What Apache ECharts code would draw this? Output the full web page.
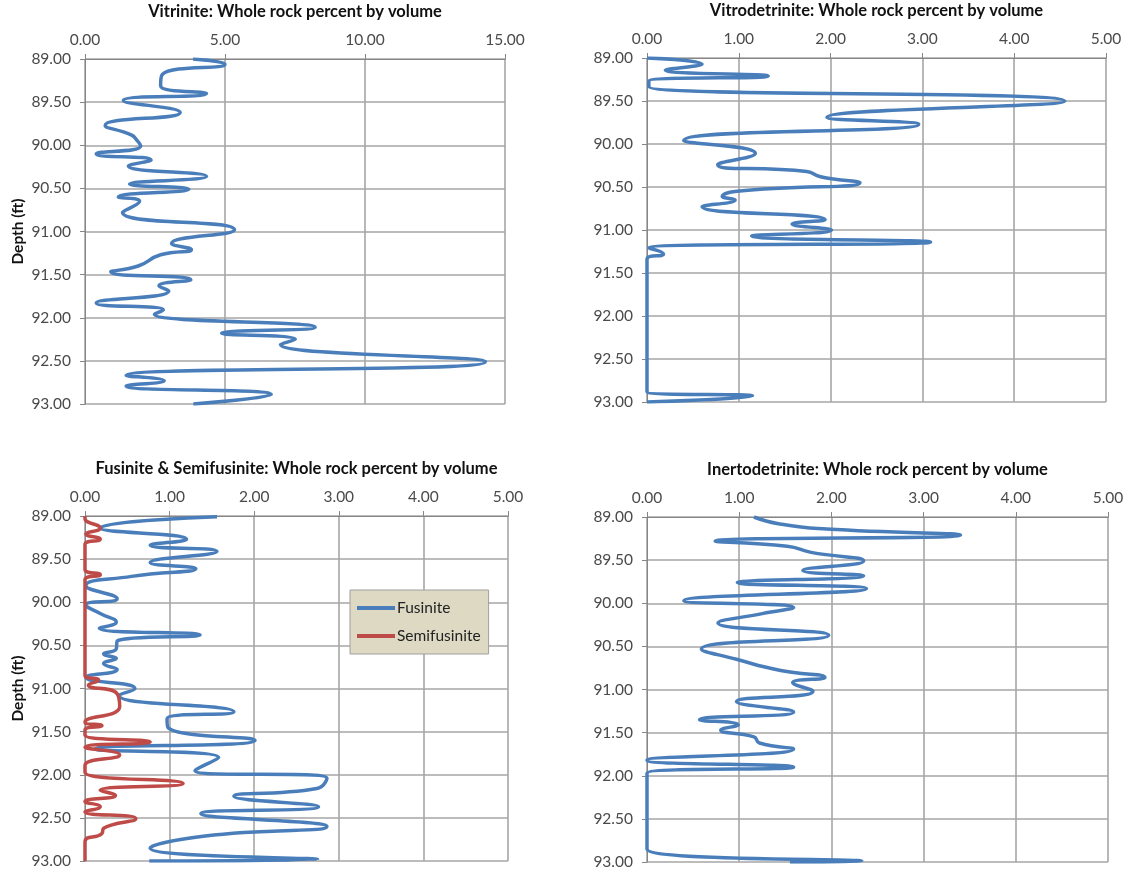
<!DOCTYPE html>
<html>
<head>
<meta charset="utf-8">
<script src="https://cdn.jsdelivr.net/npm/echarts@6/dist/echarts.min.js"></script>
<style>
  html, body { margin: 0; padding: 0; background: #ffffff; }
  #chart { width: 1133px; height: 871px; }
</style>
</head>
<body>
<div id="chart"></div>
<script>
// Depth axis (ft), shared by all four panels
const depthMin = 89.0;
const depthMax = 93.0;
const depthStep = 0.5;

// Vitrinite, whole rock percent by volume
const vitriniteDepth = [89.00, 89.06, 89.18, 89.31, 89.40, 89.48, 89.62, 89.77, 89.88, 89.94, 90.01, 90.10, 90.17, 90.24, 90.36, 90.45, 90.51, 90.60, 90.65, 90.78, 90.98, 91.14, 91.21, 91.27, 91.40, 91.47, 91.56, 91.63, 91.69, 91.83, 91.91, 91.96, 92.11, 92.18, 92.25, 92.31, 92.51, 92.67, 92.73, 92.79, 92.89, 93.00];
const vitriniteValue = [3.86, 5.00, 2.76, 2.70, 4.34, 1.37, 3.40, 0.72, 1.65, 1.85, 1.99, 0.40, 2.36, 1.55, 4.34, 1.59, 3.71, 1.19, 1.95, 1.34, 5.34, 3.09, 3.80, 2.70, 1.90, 0.92, 3.78, 2.64, 2.99, 0.40, 2.80, 2.48, 8.22, 4.88, 7.51, 6.98, 14.30, 1.47, 2.83, 1.47, 6.65, 3.87];

// Vitrodetrinite, whole rock percent by volume
const vitrodetriniteDepth = [89.00, 89.07, 89.14, 89.21, 89.27, 89.33, 89.50, 89.69, 89.77, 89.96, 90.11, 90.24, 90.32, 90.38, 90.45, 90.55, 90.61, 90.65, 90.73, 90.88, 90.93, 91.00, 91.07, 91.14, 91.21, 91.28, 91.34, 91.60, 92.00, 92.40, 92.88, 92.93, 93.00];
const vitrodetriniteValue = [0.00, 0.60, 0.20, 1.32, 0.02, 0.02, 4.55, 1.96, 2.96, 0.40, 1.18, 0.77, 1.74, 1.89, 2.32, 0.98, 0.82, 0.96, 0.60, 1.94, 1.58, 2.01, 1.14, 3.09, 0.02, 0.18, 0.00, 0.00, 0.00, 0.00, 0.00, 1.15, 0.00];

// Fusinite, whole rock percent by volume
const fusiniteDepth = [89.01, 89.14, 89.27, 89.34, 89.41, 89.54, 89.61, 89.70, 89.81, 89.96, 90.03, 90.13, 90.23, 90.30, 90.38, 90.45, 90.54, 90.60, 90.65, 90.71, 90.78, 90.87, 91.00, 91.08, 91.27, 91.35, 91.45, 91.60, 91.70, 91.80, 91.95, 92.04, 92.16, 92.25, 92.37, 92.45, 92.60, 92.71, 92.85, 92.98, 93.00];
const fusiniteValue = [1.56, 0.18, 1.20, 0.77, 1.56, 0.77, 1.31, 0.55, 0.01, 0.38, 0.01, 0.18, 0.37, 0.17, 1.36, 0.38, 0.37, 0.22, 0.37, 0.22, 0.38, 0.01, 0.59, 0.40, 1.76, 0.97, 0.98, 2.01, 0.12, 1.58, 1.30, 2.86, 2.74, 1.76, 2.76, 1.37, 2.86, 1.42, 0.77, 2.75, 0.76];

// Semifusinite, whole rock percent by volume
const semifusiniteDepth = [89.00, 89.03, 89.14, 89.21, 89.27, 89.33, 89.50, 89.62, 89.68, 89.74, 90.20, 90.60, 90.85, 90.90, 90.96, 91.06, 91.21, 91.39, 91.43, 91.48, 91.54, 91.62, 91.68, 91.77, 91.89, 91.97, 92.10, 92.18, 92.24, 92.31, 92.37, 92.43, 92.51, 92.62, 92.68, 92.78, 93.00];
const semifusiniteValue = [0.00, 0.00, 0.18, 0.01, 0.18, 0.00, 0.00, 0.00, 0.18, 0.00, 0.00, 0.00, 0.00, 0.16, 0.04, 0.38, 0.41, 0.00, 0.20, 0.00, 0.00, 0.77, 0.00, 0.41, 0.00, 0.00, 1.16, 0.18, 0.36, 0.00, 0.18, 0.00, 0.60, 0.22, 0.20, 0.00, 0.00];

// Inertodetrinite, whole rock percent by volume
const inertodetriniteDepth = [89.00, 89.08, 89.14, 89.21, 89.28, 89.34, 89.41, 89.51, 89.62, 89.68, 89.76, 89.83, 89.97, 90.05, 90.12, 90.23, 90.37, 90.53, 90.65, 90.78, 90.86, 90.92, 91.02, 91.14, 91.26, 91.35, 91.41, 91.47, 91.55, 91.62, 91.69, 91.82, 91.90, 91.97, 92.40, 92.85, 92.99, 93.00];
const inertodetriniteValue = [1.16, 1.44, 1.95, 3.40, 0.74, 1.52, 1.78, 2.35, 1.69, 2.35, 0.98, 2.38, 0.40, 1.59, 1.25, 0.77, 1.97, 0.59, 0.97, 1.45, 1.93, 1.58, 1.80, 0.97, 1.59, 0.57, 0.99, 0.80, 1.16, 1.22, 1.59, 0.00, 1.59, 0.00, 0.00, 0.00, 2.33, 1.55];

// Panel titles and percent-axis ranges
const panelTitles = [
  'Vitrinite: Whole rock percent by volume',
  'Vitrodetrinite: Whole rock percent by volume',
  'Fusinite & Semifusinite: Whole rock percent by volume',
  'Inertodetrinite: Whole rock percent by volume'
];
const percentMax = [15, 5, 5, 5];
const percentStep = [5, 1, 1, 1];
const depthAxisName = 'Depth (ft)';

const FONT = 'Lato, "Open Sans", "Liberation Sans", sans-serif';
const BLUE = '#4a7ebb';
const RED = '#be4b48';
const AXIS_GRAY = '#868686';
const GRID_GRAY = '#a6a6a6';
const LABEL_GRAY = '#4a4a4a';

function pairs(values, depths) {
  return values.map((v, i) => [v, depths[i]]);
}

const grids = [
  { left: 85, top: 59, width: 420, height: 345 },
  { left: 647, top: 58, width: 459, height: 344 },
  { left: 85, top: 516, width: 423, height: 345 },
  { left: 647, top: 517, width: 461, height: 345 }
];

const fmt2 = v => v.toFixed(2);

const xAxes = grids.map((g, i) => ({
  type: 'value',
  gridIndex: i,
  position: 'top',
  min: 0,
  max: percentMax[i],
  interval: percentStep[i],
  name: panelTitles[i],
  nameLocation: 'middle',
  nameGap: 39,
  nameTextStyle: { fontFamily: FONT, fontSize: 16.5, fontWeight: 'bold', color: '#111' },
  axisLine: { show: true, lineStyle: { color: AXIS_GRAY, width: 1 } },
  axisTick: { show: true, length: 5, lineStyle: { color: AXIS_GRAY } },
  axisLabel: { formatter: fmt2, fontFamily: FONT, fontSize: 15.5, color: LABEL_GRAY, margin: 11 },
  splitLine: { show: true, lineStyle: { color: GRID_GRAY, width: 1.6 } }
}));

const yAxes = grids.map((g, i) => ({
  type: 'value',
  gridIndex: i,
  inverse: true,
  min: depthMin,
  max: depthMax,
  interval: depthStep,
  name: (i % 2 === 0) ? depthAxisName : '',
  nameLocation: 'middle',
  nameRotate: 90,
  nameGap: 59,
  nameTextStyle: { fontFamily: FONT, fontSize: 15.5, fontWeight: 'bold', color: '#111' },
  axisLine: { show: true, lineStyle: { color: AXIS_GRAY, width: 1 } },
  axisTick: { show: true, length: 5, lineStyle: { color: AXIS_GRAY } },
  axisLabel: { formatter: fmt2, fontFamily: FONT, fontSize: 15.5, color: LABEL_GRAY, margin: 14 },
  splitLine: { show: true, lineStyle: { color: GRID_GRAY, width: 1.6 } }
}));

function curve(name, values, depths, idx, color) {
  return {
    name: name,
    type: 'line',
    xAxisIndex: idx,
    yAxisIndex: idx,
    data: pairs(values, depths),
    smooth: 0.55,
    showSymbol: false,
    symbol: 'none',
    clip: true,
    lineStyle: { color: color, width: 3.5 },
    itemStyle: { color: color },
    emphasis: { disabled: true }
  };
}

const option = {
  animation: false,
  backgroundColor: '#ffffff',
  grid: grids,
  xAxis: xAxes,
  yAxis: yAxes,
  legend: {
    data: ['Fusinite', 'Semifusinite'],
    orient: 'vertical',
    left: 350,
    top: 590,
    backgroundColor: '#ddd9c3',
    borderColor: '#a0a0a0',
    borderWidth: 1,
    padding: [10, 8, 10, 7],
    itemGap: 12,
    itemWidth: 38,
    itemHeight: 4,
    icon: 'rect',
    textStyle: { fontFamily: FONT, fontSize: 15.5, color: '#222', padding: [0, 0, 0, -3] }
  },
  series: [
    curve('Vitrinite', vitriniteValue, vitriniteDepth, 0, BLUE),
    curve('Vitrodetrinite', vitrodetriniteValue, vitrodetriniteDepth, 1, BLUE),
    curve('Fusinite', fusiniteValue, fusiniteDepth, 2, BLUE),
    curve('Semifusinite', semifusiniteValue, semifusiniteDepth, 2, RED),
    curve('Inertodetrinite', inertodetriniteValue, inertodetriniteDepth, 3, BLUE)
  ]
};

const chart = echarts.init(document.getElementById('chart'), null, { renderer: 'canvas' });
chart.setOption(option);
</script>
</body>
</html>
